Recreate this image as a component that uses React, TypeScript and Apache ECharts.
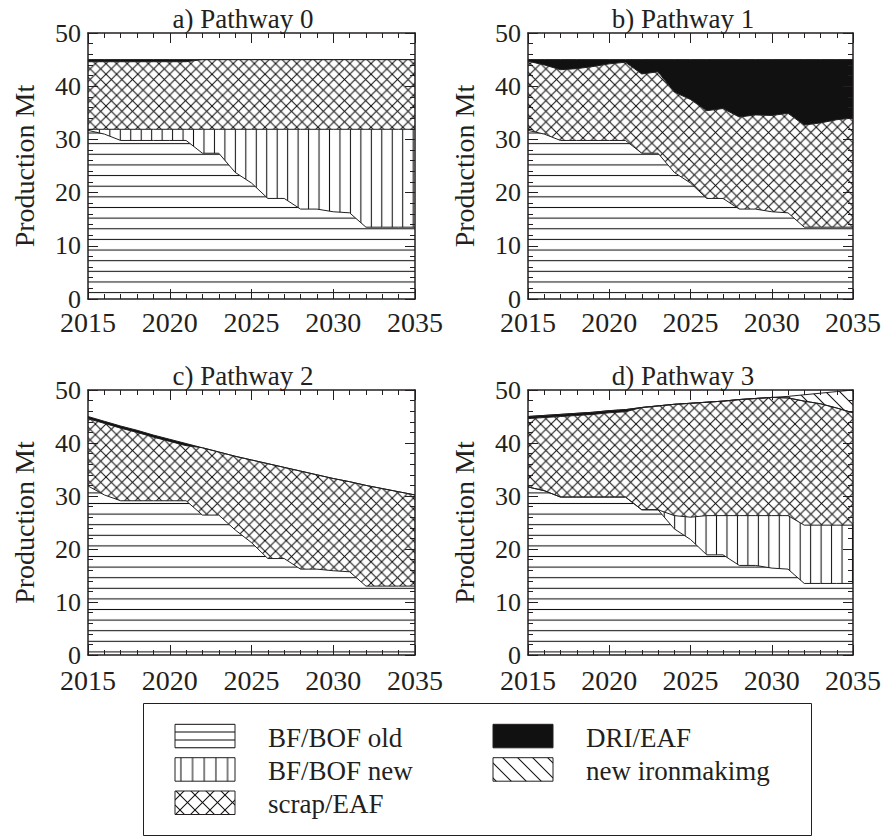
import React, { useEffect, useRef } from "react";
import * as echarts from "echarts";

// ---------------- data ----------------
const years = ["2015", "2016", "2017", "2018", "2019", "2020", "2021", "2022", "2023", "2024", "2025", "2026", "2027", "2028", "2029", "2030", "2031", "2032", "2033", "2034", "2035"];
const yTicks = [0, 10, 20, 30, 40, 50];

// a) Pathway 0
const oldA = [31.7, 31.0, 29.8, 29.8, 29.8, 29.8, 29.8, 27.4, 27.4, 23.8, 21.8, 18.9, 18.9, 16.9, 16.9, 16.4, 16.2, 13.5, 13.5, 13.5, 13.5];
const newA = [0.2, 0.9, 2.1, 2.1, 2.1, 2.1, 2.1, 4.5, 4.5, 8.1, 10.1, 13.0, 13.0, 15.0, 15.0, 15.5, 15.7, 18.4, 18.4, 18.4, 18.4];
const scrapA = [12.7, 12.7, 12.7, 12.7, 12.7, 12.7, 12.7, 13.1, 13.1, 13.1, 13.1, 13.1, 13.1, 13.1, 13.1, 13.1, 13.1, 13.1, 13.1, 13.1, 13.1];
const driA = [0.4, 0.4, 0.4, 0.4, 0.4, 0.4, 0.4, 0, 0, 0, 0, 0, 0, 0, 0, 0, 0, 0, 0, 0, 0];

// b) Pathway 1
const oldB = [31.7, 31.0, 29.8, 29.8, 29.8, 29.8, 29.8, 27.4, 27.4, 23.8, 21.8, 18.9, 18.9, 16.9, 16.9, 16.4, 16.2, 13.5, 13.5, 13.5, 13.5];
const scrapB = [13.0, 13.0, 13.3, 13.5, 13.9, 14.4, 14.7, 14.9, 15.3, 15.1, 15.7, 16.5, 16.9, 17.3, 17.7, 18.1, 18.7, 19.2, 19.6, 20.2, 20.5];
const driB = [0.3, 1.0, 1.9, 1.7, 1.3, 0.8, 0.5, 2.7, 2.3, 6.1, 7.5, 9.6, 9.2, 10.8, 10.4, 10.5, 10.1, 12.3, 11.9, 11.3, 11.0];

// c) Pathway 2
const oldC = [31.9, 30.2, 29.1, 29.1, 29.1, 29.1, 29.1, 26.4, 26.4, 23.6, 21.2, 18.2, 18.2, 16.2, 16.2, 15.9, 15.7, 13.0, 13.0, 13.0, 13.0];
const scrapC = [12.7, 13.5, 13.7, 12.9, 12.0, 11.2, 10.4, 12.7, 11.9, 13.9, 15.6, 17.9, 17.2, 18.5, 17.8, 17.4, 17.0, 19.0, 18.4, 17.8, 17.2];
const driC = [0.4, 0.4, 0.4, 0.4, 0.4, 0.4, 0.4, 0, 0, 0, 0, 0, 0, 0, 0, 0, 0, 0, 0, 0, 0];

// d) Pathway 3
const oldD = [31.7, 31.0, 29.8, 29.8, 29.8, 29.8, 29.8, 27.4, 27.4, 23.8, 21.8, 18.9, 18.9, 16.9, 16.9, 16.4, 16.2, 13.5, 13.5, 13.5, 13.5];
const newD = [0, 0, 0, 0, 0, 0, 0, 0, 0, 2.5, 4.2, 7.4, 7.4, 9.4, 9.4, 9.9, 10.1, 11.0, 11.0, 11.0, 11.0];
const scrapD = [12.9, 13.8, 15.2, 15.4, 15.6, 15.9, 16.1, 19.3, 19.6, 21.0, 21.5, 21.4, 21.6, 21.9, 22.1, 22.3, 22.2, 23.4, 22.9, 22.1, 21.2];
const driD = [0.4, 0.4, 0.4, 0.4, 0.4, 0.4, 0.4, 0, 0, 0, 0, 0, 0, 0, 0, 0, 0, 0, 0, 0, 0];
const ironD = [0, 0, 0, 0, 0, 0, 0, 0, 0, 0, 0, 0, 0, 0, 0, 0, 0.3, 1.2, 2.0, 3.1, 4.3];

const titles = ["a) Pathway 0", "b) Pathway 1", "c) Pathway 2", "d) Pathway 3"];
const legendNames = ["BF/BOF old", "BF/BOF new", "scrap/EAF", "DRI/EAF", "new ironmakimg"];
const yName = "Production Mt";

const panelData = [
  [oldA, newA, scrapA, driA, null],
  [oldB, null, scrapB, driB, null],
  [oldC, null, scrapC, driC, null],
  [oldD, newD, scrapD, driD, ironD],
];

// ---------------- styling ----------------
const INK = "#231f20";
const HATCH = "#111";
const SERIF = "Liberation Serif";

const layout = [
  { left: 88, top: 33, width: 327, height: 266 },
  { left: 528, top: 33, width: 327, height: 266 },
  { left: 88, top: 390, width: 327, height: 265 },
  { left: 528, top: 390, width: 327, height: 265 },
];

function svgUrl(w: number, h: number, body: string) {
  const svg = `<svg xmlns="http://www.w3.org/2000/svg" width="${w}" height="${h}" viewBox="0 0 ${w} ${h}">${body}</svg>`;
  return "data:image/svg+xml;charset=utf-8," + encodeURIComponent(svg);
}
const ln = (x1: number, y1: number, x2: number, y2: number) =>
  `<line x1="${x1}" y1="${y1}" x2="${x2}" y2="${y2}" stroke="${HATCH}" stroke-width="1.05"/>`;

function tile(w: number, h: number, body: string, x: number, y: number) {
  return { image: svgUrl(w, h, body), imageWidth: w, imageHeight: h, repeat: "repeat", x, y };
}
function backBody(P: number) {
  let s = "";
  for (const c of [-P, 0, P]) s += ln(c - 1, -1, c + P + 1, P + 1);
  return s;
}
function fwdBody(P: number) {
  let s = "";
  for (const c of [0, P, 2 * P]) s += ln(c + 1, -1, c - P - 1, P + 1);
  return s;
}

function hatchH(L: any) {
  const h = L.height / 25;
  return tile(10, h, ln(0, h / 2, 10, h / 2), 0, L.top + L.height - h / 2);
}
function hatchV(L: any) {
  const w = 10.46;
  return tile(w, 10, ln(w / 2, 0, w / 2, 10), L.left + 5.8 - w / 2, 0);
}
function hatchX(L: any) {
  const P = 10.6;
  return tile(P, P, backBody(P) + fwdBody(P), L.left, L.top + L.height);
}
function hatchD(L: any) {
  const P = 14;
  return tile(P, P, backBody(P), L.left, L.top);
}

function buildOption() {
  const grid: any[] = [];
  const xAxis: any[] = [];
  const yAxis: any[] = [];
  const series: any[] = [];
  const elements: any[] = [];

  const tickLine = { color: INK, width: 1 };

  layout.forEach((L, i) => {
    grid.push({ left: L.left, top: L.top, width: L.width, height: L.height, containLabel: false });
    const xLabel = {
      show: true,
      interval: 4,
      margin: i < 2 ? 12.5 : 14,
      formatter: "{t|{value}}",
      rich: { t: { fontFamily: SERIF, fontSize: 28, lineHeight: 22, color: INK } },
    };
    const yLabel = {
      show: true,
      margin: 7,
      formatter: "{t|{value}}",
      rich: { t: { fontFamily: SERIF, fontSize: 26, lineHeight: 18, color: INK } },
    };
    const xBase = {
      type: "category",
      gridIndex: i,
      data: years,
      boundaryGap: false,
      z: 5,
      splitLine: { show: false },
    };
    xAxis.push({
      ...xBase,
      position: "bottom",
      axisLine: { show: true, onZero: false, lineStyle: { color: INK, width: 1.5 } },
      axisTick: { show: true, inside: true, length: 10, interval: 4, lineStyle: tickLine },
      axisLabel: xLabel,
    });
    xAxis.push({
      ...xBase,
      position: "bottom",
      axisLine: { show: false, onZero: false },
      axisTick: { show: true, inside: true, length: 5, interval: 0, lineStyle: tickLine },
      axisLabel: { show: false },
    });
    xAxis.push({
      ...xBase,
      position: "top",
      axisLine: { show: true, onZero: false, lineStyle: { color: INK, width: 1.5 } },
      axisTick: { show: true, inside: true, length: 10, interval: 4, lineStyle: tickLine },
      axisLabel: { show: false },
    });
    xAxis.push({
      ...xBase,
      position: "top",
      axisLine: { show: false, onZero: false },
      axisTick: { show: true, inside: true, length: 5, interval: 0, lineStyle: tickLine },
      axisLabel: { show: false },
    });

    const yCommon = {
      type: "value",
      gridIndex: i,
      min: yTicks[0],
      max: yTicks[yTicks.length - 1],
      interval: 10,
      z: 5,
      axisLine: { show: true, onZero: false, lineStyle: { color: INK, width: 1.5 } },
      axisTick: { show: true, inside: true, length: 10, lineStyle: tickLine },
      minorTick: { show: true, splitNumber: 5, length: 5, lineStyle: tickLine },
      splitLine: { show: false },
      minorSplitLine: { show: false },
    };
    yAxis.push({ ...yCommon, position: "left", axisLabel: yLabel });
    yAxis.push({ ...yCommon, position: "right", axisLabel: { show: false } });

    const fills = [hatchH(L), hatchV(L), hatchX(L), "#111", hatchD(L)];
    panelData[i].forEach((arr, k) => {
      if (!arr) return;
      series.push({
        type: "line",
        name: legendNames[k],
        xAxisIndex: i * 4,
        yAxisIndex: i * 2,
        stack: "p" + i,
        data: arr,
        symbol: "none",
        showSymbol: false,
        silent: true,
        z: 2,
        lineStyle: { color: INK, width: 1 },
        itemStyle: { color: INK },
        areaStyle: { color: fills[k], opacity: 1 },
        emphasis: { disabled: true },
      });
    });

    elements.push({
      type: "text",
      x: L.left + 155,
      y: L.top - 14,
      style: { text: titles[i], fontFamily: SERIF, fontSize: 27, fill: INK, textAlign: "center", textVerticalAlign: "middle" },
    });
    elements.push({
      type: "text",
      x: L.left - 64,
      y: L.top + L.height / 2,
      rotation: Math.PI / 2,
      style: { text: yName, fontFamily: SERIF, fontSize: 28, fill: INK, textAlign: "center", textVerticalAlign: "middle" },
    });
  });

  // legend box
  elements.push({
    type: "rect",
    shape: { x: 143.5, y: 703.5, width: 668, height: 132 },
    style: { fill: "none", stroke: INK, lineWidth: 1 },
  });
  const rows = [724.3, 757.7, 791];
  const rowText = [737.6, 770.9, 804.2];
  const legendItems = [
    { col: 0, row: 0, fill: tile(10, 8, ln(0, 4, 10, 4), 0, 724.3 - 4) },
    { col: 0, row: 1, fill: tile(11.67, 10, ln(5.835, 0, 5.835, 10), 175 - 5.835, 0) },
    { col: 0, row: 2, fill: tile(15, 15, backBody(15) + fwdBody(15), 175, 795) },
    { col: 1, row: 0, fill: "#111" },
    { col: 1, row: 1, fill: tile(15, 15, backBody(15), 493, 757.7) },
  ];
  const colSym = [175, 493];
  const colText = [268, 586];
  legendItems.forEach((it, k) => {
    elements.push({
      type: "rect",
      shape: { x: colSym[it.col], y: rows[it.row], width: 60, height: 23.5 },
      style: { fill: it.fill, stroke: INK, lineWidth: 1 },
    });
    elements.push({
      type: "text",
      x: colText[it.col],
      y: rowText[it.row],
      style: { text: legendNames[k], fontFamily: SERIF, fontSize: 27, fill: INK, textAlign: "left", textVerticalAlign: "middle" },
    });
  });

  return {
    animation: false,
    backgroundColor: "#ffffff",
    textStyle: { fontFamily: SERIF },
    grid,
    xAxis,
    yAxis,
    series,
    graphic: { elements },
  };
}

export default function App() {
  const ref = useRef<HTMLDivElement>(null);
  useEffect(() => {
    const chart = echarts.init(ref.current as HTMLDivElement, null, { renderer: "svg" });
    chart.setOption(buildOption() as any);
    return () => chart.dispose();
  }, []);
  return (
    <div
      ref={ref}
      style={{ position: "absolute", left: 0, top: 0, width: 884, height: 839, background: "#fff" }}
    />
  );
}
